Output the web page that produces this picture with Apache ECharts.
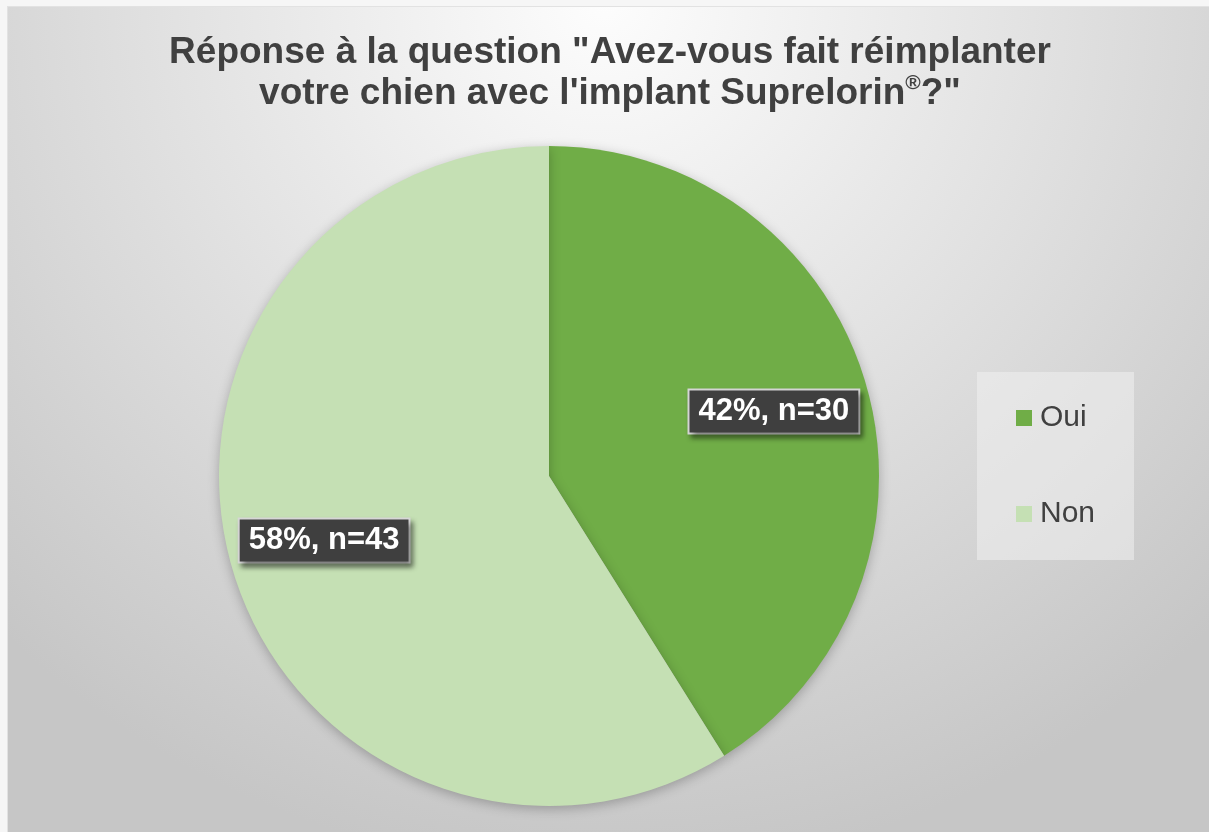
<!DOCTYPE html>
<html>
<head>
<meta charset="utf-8">
<script src="https://cdn.jsdelivr.net/npm/echarts@6/dist/echarts.min.js"></script>
<style>
html,body{margin:0;padding:0;background:#f4f4f4;}
#chart{position:absolute;left:0;top:0;width:1209px;height:832px;}
#frame{position:absolute;left:0;top:0;width:1209px;height:832px;box-sizing:border-box;border-left:7px solid #f6f6f6;border-top:6px solid #f6f6f6;pointer-events:none;}
#frame2{position:absolute;left:7px;top:6px;width:1202px;height:826px;box-sizing:border-box;border-left:1px solid #e2e2e2;border-top:1px solid #e2e2e2;pointer-events:none;}
</style>
</head>
<body>
<div id="chart"></div>
<div id="frame"></div>
<div id="frame2"></div>
<script>
var titleLine1 = 'Réponse à la question "Avez-vous fait réimplanter';
var titleLine2 = 'votre chien avec l\'implant Suprelorin{sup|®}?"';
var categories = ['Oui', 'Non'];
var counts = [30, 43];
var pctLabels = ['42%', '58%'];
var colors = ['#70ad47', '#c5e0b4'];

var chart = echarts.init(document.getElementById('chart'));
var pieData = categories.map(function (c, i) {
  return { name: c, value: counts[i], itemStyle: { color: colors[i] } };
});
var overlayData = categories.map(function (c, i) {
  return { name: c, value: counts[i] };
});

chart.setOption({
  backgroundColor: {
    type: 'radial', x: 0.5, y: 0, r: 1.05,
    colorStops: [
      { offset: 0, color: '#fdfdfd' },
      { offset: 1, color: '#c6c6c6' }
    ]
  },
  title: {
    text: titleLine1 + '\n' + titleLine2,
    left: 610, top: 32, padding: 0,
    textAlign: 'center',
    textStyle: {
      fontFamily: 'Liberation Sans, Arial, sans-serif',
      fontSize: 37, fontWeight: 'bold', color: '#404040', lineHeight: 41,
      rich: {
        sup: { fontSize: 21, fontWeight: 'bold', color: '#404040', verticalAlign: 'top', lineHeight: 30, fontFamily: 'Liberation Sans, Arial, sans-serif' }
      }
    }
  },
  legend: {
    orient: 'vertical',
    left: 977, top: 372,
    padding: [31, 39, 31, 39],
    backgroundColor: 'rgba(240,240,240,0.55)',
    itemWidth: 16, itemHeight: 16, itemGap: 66,
    icon: 'rect',
    data: categories.map(function (c, i) { return { name: c, itemStyle: { color: colors[i] } }; }),
    textStyle: { fontFamily: 'Liberation Sans, Arial, sans-serif', fontSize: 30, color: '#404040', lineHeight: 30, padding: [0, 0, 0, 3] }
  },
  series: [
    {
      type: 'pie',
      center: [549, 476],
      radius: [0, 330],
      startAngle: 90,
      clockwise: true,
      silent: true,
      label: { show: false },
      labelLine: { show: false },
      itemStyle: { borderWidth: 0, shadowBlur: 12, shadowColor: 'rgba(0,0,0,0.25)', shadowOffsetY: 3 },
      data: pieData
    },
    {
      type: 'pie',
      center: [549, 476],
      radius: [132, 330],
      startAngle: 90,
      clockwise: true,
      silent: true,
      legendHoverLink: false,
      itemStyle: { color: 'rgba(0,0,0,0)' },
      labelLine: { show: false },
      label: {
        show: true,
        position: 'inside',
        formatter: function (p) { return pctLabels[p.dataIndex] + ', n=' + p.value; },
        fontFamily: 'Liberation Sans, Arial, sans-serif',
        fontSize: 31, fontWeight: 'bold', color: '#ffffff', lineHeight: 32,
        backgroundColor: '#3f3f3f',
        borderColor: '#d6d6d6', borderWidth: 2,
        padding: [6, 9, 4, 9],
        shadowColor: 'rgba(0,0,0,0.45)', shadowBlur: 5, shadowOffsetX: 3, shadowOffsetY: 4
      },
      data: overlayData
    }
  ]
});
</script>
</body>
</html>
